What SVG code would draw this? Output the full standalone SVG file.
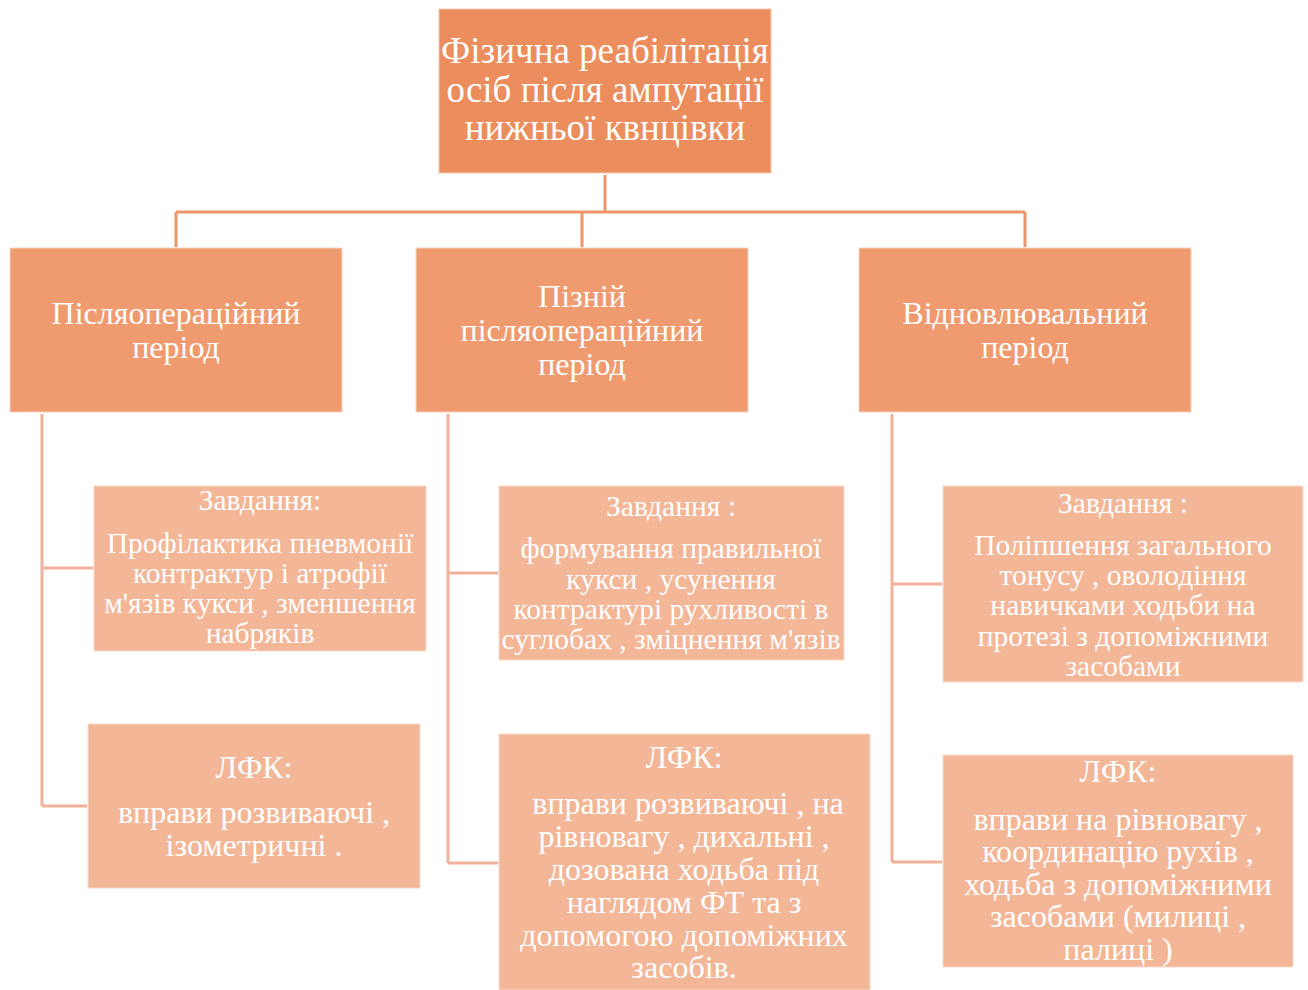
<svg xmlns="http://www.w3.org/2000/svg" width="1308" height="990" viewBox="0 0 1308 990">
<style>
.t{font-family:"Liberation Serif","Times New Roman",serif;fill:#ffffff;text-anchor:middle}
.top{fill:#EC8D5E;stroke:#F6C9B0;stroke-width:1}
.l2{fill:#EF9B6F;stroke:#F8D2BD;stroke-width:1}
.l3{fill:#F3B697;stroke:#FADACA;stroke-width:1}
.c1{fill:none;stroke:#EE9468;stroke-width:3}
.c2{fill:none;stroke:#F2B199;stroke-width:3}
</style>
<rect width="1308" height="990" fill="#ffffff"/>
<g id="connectors">
<path class="c1" d="M605 175 V212 M176 212 H1025 M176 212 V247 M582 212 V247 M1025 212 V247"/>
<path class="c2" d="M42 414 V806 M42 568 H93 M42 806 H87"/>
<path class="c2" d="M448 414 V863 M448 573 H498 M448 863 H498"/>
<path class="c2" d="M892 414 V862 M892 584 H942 M892 862 H942"/>
</g>
<g id="root">
<rect class="top" x="439" y="9" width="332" height="164"/>
<text class="t" font-size="37"><tspan x="605" y="63">Фізична реабілітація</tspan><tspan x="605" y="102">осіб після ампутації</tspan><tspan x="605" y="140">нижньої квнцівки</tspan></text>
</g>
<g id="p1">
<rect class="l2" x="10" y="248" width="332" height="164"/>
<text class="t" font-size="32"><tspan x="176" y="324">Післяопераційний</tspan><tspan x="176" y="358">період</tspan></text>
</g>
<g id="p2">
<rect class="l2" x="416" y="248" width="332" height="164"/>
<text class="t" font-size="32"><tspan x="582" y="307">Пізній</tspan><tspan x="582" y="341">післяопераційний</tspan><tspan x="582" y="375">період</tspan></text>
</g>
<g id="p3">
<rect class="l2" x="859" y="248" width="332" height="164"/>
<text class="t" font-size="32"><tspan x="1025" y="324">Відновлювальний</tspan><tspan x="1025" y="358">період</tspan></text>
</g>
<g id="t1">
<rect class="l3" x="94" y="486" width="332" height="165"/>
<text class="t" font-size="29.5"><tspan x="260" y="510">Завдання:</tspan><tspan x="260" y="553">Профілактика пневмонії</tspan><tspan x="260" y="583">контрактур і атрофії</tspan><tspan x="260" y="613">м'язів кукси , зменшення</tspan><tspan x="260" y="643">набряків</tspan></text>
</g>
<g id="e1">
<rect class="l3" x="88" y="724" width="332" height="164"/>
<text class="t" font-size="32"><tspan x="254" y="778">ЛФК:</tspan><tspan x="254" y="823">вправи розвиваючі ,</tspan><tspan x="254" y="856">ізометричні .</tspan></text>
</g>
<g id="t2">
<rect class="l3" x="499" y="486" width="345" height="174"/>
<text class="t" font-size="29.5"><tspan x="671" y="516">Завдання :</tspan><tspan x="671" y="558">формування правильної</tspan><tspan x="671" y="589">кукси , усунення</tspan><tspan x="671" y="619">контрактурі рухливості в</tspan><tspan x="671" y="649">суглобах , зміцнення м'язів</tspan></text>
</g>
<g id="e2">
<rect class="l3" x="499" y="734" width="371" height="256"/>
<text class="t" font-size="32"><tspan x="684" y="768">ЛФК:</tspan><tspan x="688" y="814">вправи розвиваючі , на</tspan><tspan x="684" y="847">рівновагу , дихальні ,</tspan><tspan x="684" y="880">дозована ходьба під</tspan><tspan x="684" y="913">наглядом ФТ та з</tspan><tspan x="684" y="946">допомогою допоміжних</tspan><tspan x="684" y="978">засобів.</tspan></text>
</g>
<g id="t3">
<rect class="l3" x="943" y="486" width="360" height="196"/>
<text class="t" font-size="29.5"><tspan x="1123" y="513">Завдання :</tspan><tspan x="1123" y="555">Поліпшення загального</tspan><tspan x="1123" y="585">тонусу , оволодіння</tspan><tspan x="1123" y="615">навичками ходьби на</tspan><tspan x="1123" y="646">протезі з допоміжними</tspan><tspan x="1123" y="676">засобами</tspan></text>
</g>
<g id="e3">
<rect class="l3" x="943" y="755" width="350" height="212"/>
<text class="t" font-size="32"><tspan x="1118" y="782">ЛФК:</tspan><tspan x="1118" y="830">вправи на рівновагу ,</tspan><tspan x="1118" y="862">координацію рухів ,</tspan><tspan x="1118" y="895">ходьба з допоміжними</tspan><tspan x="1118" y="927">засобами (милиці ,</tspan><tspan x="1118" y="960">палиці )</tspan></text>
</g>
</svg>
